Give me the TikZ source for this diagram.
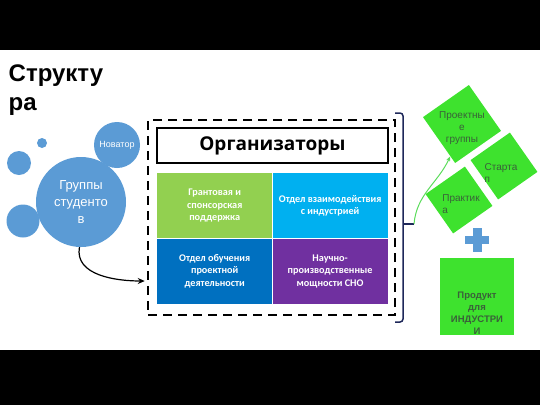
\documentclass[tikz,border=0pt]{standalone}
\usepackage{fontspec}
\setmainfont{Liberation Sans}
\newfontfamily\carl{Carlito}
\newfontfamily\opensans{Open Sans}
\usetikzlibrary{calc,positioning,arrows.meta}
\definecolor{bubble}{RGB}{91,155,213}
\definecolor{leaf}{RGB}{146,208,80}
\definecolor{sky}{RGB}{0,176,240}
\definecolor{sea}{RGB}{0,112,192}
\definecolor{plum}{RGB}{112,48,160}
\definecolor{lime}{RGB}{62,226,46}
\definecolor{moss}{RGB}{58,96,58}
\definecolor{navy}{RGB}{30,40,90}
\definecolor{sprout}{RGB}{90,220,90}
\def\bubble{\node[circle,fill=bubble,inner sep=0pt,text=white,align=center]}
\def\cell{\node[rectangle,inner sep=0pt,minimum width=115pt,minimum height=65pt,text=white,align=center,font=\carl\bfseries\fontsize{10.2}{12.5}\selectfont]}
\def\gsq{\node[rectangle,fill=lime,inner sep=0pt,rotate=35]}
\def\gtext{\node[text=moss,inner sep=0pt,font=\fontsize{10}{12}\selectfont]}

\begin{document}
\begin{tikzpicture}[x=1pt,y=-1pt]
\useasboundingbox (0,0) rectangle (540,405);
% black bands
\fill[black] (0,0) rectangle (540,50);
\fill[black] (0,350) rectangle (540,405);

\node[anchor=north west,inner sep=0pt,align=left,font=\bfseries\fontsize{24}{29}\selectfont] (title) at (8.5,64.3) {Структу\\ра};

% bubbles on the left
\bubble[minimum size=10pt] (dot) at (42,143) {};
\bubble[minimum size=24pt] (drop) at (19,163) {};
\bubble[minimum size=33pt] (blob) at (23,221) {};
\bubble[minimum size=90pt,font=\fontsize{13}{17}\selectfont] (stud) at (81,202) {Группы\\студенто\\в};
\bubble[minimum size=46pt,font=\fontsize{9}{10}\selectfont] (novator) at (117,145) {Новатор};

% dashed frame with the organizers
\node[draw,line width=2.5pt,dash pattern=on 9pt off 6pt,minimum width=247pt,minimum height=195pt,inner sep=0pt] (frame) at (271.5,217.5) {};
\coordinate (entry) at ($ (frame.west) + (-2,63.5) $);
\draw[-{Stealth[length=7pt,width=6pt]},line width=1.2pt] (stud.-92) to[out=-100,in=180] (entry);

\node[draw,line width=2.2pt,minimum width=231pt,minimum height=35pt,inner sep=0pt,font=\opensans\bfseries\fontsize{19}{22}\selectfont] (org) at (272.5,145.5) {Организаторы};

\cell[fill=leaf,anchor=north west] (grant) at (157,173) {Грантовая и\\спонсорская\\поддержка};
\cell[fill=sky,right=0pt of grant] (industry) {Отдел взаимодействия\\с индустрией};
\cell[fill=sea,below=0pt of grant] (teach) {Отдел обучения\\проектной\\деятельности};
\cell[fill=plum,right=0pt of teach] (science) {Научно-\\производственные\\мощности СНО};

% bracket on the right
\coordinate (tick) at (414,224);
\draw[navy,line width=1.5pt,rounded corners=3pt] (395,113) -- (403,113) -- (403,322) -- (395,322);
\draw[navy,line width=1.5pt] (403,224) -- (tick);

% green squares
\gsq[minimum size=56pt] (projsq) at (462,124) {};
\gsq[minimum size=48pt] (startsq) at (504,166) {};
\gsq[minimum size=48pt] (practsq) at (459,200) {};
\gtext[align=center] (projtxt) at (462,128) {Проектны\\е\\группы};
\gtext[align=left] (starttxt) at (501,173) {Старта\\п};
\gtext[align=left] (practtxt) at (461,204) {Практик\\а};
\draw[-{Stealth[length=5pt,width=4pt]},sprout,line width=1pt] (tick) to[out=85,in=-115] (projsq.-145);

% plus and product
\coordinate (plus) at (477,240);
\fill[bubble] ($ (plus) + (-12,-4) $) rectangle ($ (plus) + (12,4) $);
\fill[bubble] ($ (plus) + (-4.5,-12) $) rectangle ($ (plus) + (4.5,12) $);
\node[rectangle,fill=lime,minimum width=74pt,minimum height=77pt,inner sep=0pt] (product) at (477,296.5) {};
\gtext[align=center,font=\bfseries\fontsize{9.5}{12}\selectfont] (prodtxt) at (477,313) {Продукт\\для\\ИНДУСТРИ\\И};
\end{tikzpicture}
\end{document}
